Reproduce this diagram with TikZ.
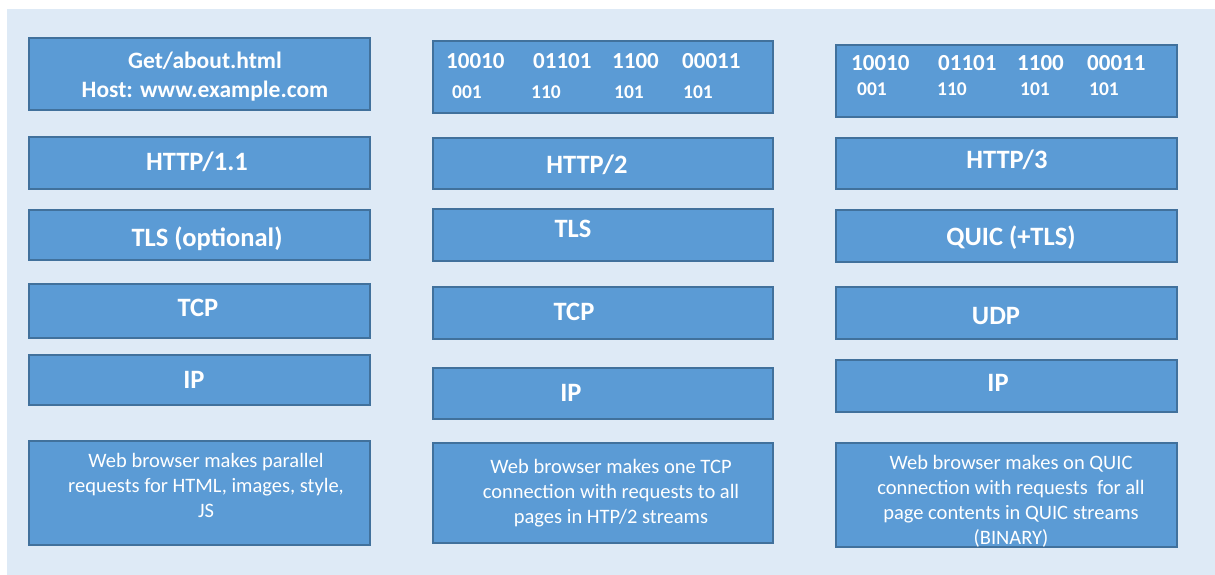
\documentclass[tikz,border=0pt]{standalone}
\usepackage{fontspec}
\setmainfont{Carlito}
\definecolor{bgc}{HTML}{DEEAF6}
\definecolor{boxc}{HTML}{5B9BD5}
\definecolor{edgec}{HTML}{41719C}
\tikzset{
  layerbox/.style={draw=edgec, fill=boxc, line width=1.2pt, inner sep=0pt},
  lbl/.style={text=white, font=\bfseries\fontsize{26.5}{30}\selectfont, inner sep=0pt, anchor=base},
  lblsm/.style={text=white, font=\bfseries\fontsize{23.5}{26}\selectfont, inner sep=0pt, anchor=base},
  bitsA/.style={text=white, font=\bfseries\fontsize{23}{26}\selectfont, inner sep=0pt, anchor=base west},
  bitsB/.style={text=white, font=\bfseries\fontsize{19.5}{22}\selectfont, inner sep=0pt, anchor=base west},
  note/.style={text=white, font=\fontsize{20.5}{25}\selectfont, align=center, inner sep=0pt, anchor=base}
}
\newcommand{\mybox}[5]{\path[layerbox] (#2,#3) rectangle (#4,#5) node[coordinate] (#1) at ({(#2+#4)/2},{(#3+#5)/2}) {};}
\begin{document}
\begin{tikzpicture}[x=1pt,y=-1pt]
\useasboundingbox (0,0) rectangle (1215,575);
\fill[bgc] (7,9) rectangle (1215,575);
% column 1
\mybox{a1}{29}{38}{370}{110}
\mybox{a2}{29}{137}{370}{189}
\mybox{a3}{29}{210}{370}{260}
\mybox{a4}{29}{284}{370}{338}
\mybox{a5}{29}{355}{370}{405}
\mybox{a6}{29}{441}{370}{545}
% column 2
\mybox{b1}{433}{41}{773}{113}
\mybox{b2}{433}{138}{773}{189}
\mybox{b3}{433}{209}{773}{261}
\mybox{b4}{433}{287}{773}{339}
\mybox{b5}{433}{368}{773}{419}
\mybox{b6}{433}{443}{773}{543}
% column 3
\mybox{c1}{836}{45}{1177}{117}
\mybox{c2}{836}{138}{1177}{189}
\mybox{c3}{836}{210}{1177}{262}
\mybox{c4}{836}{287}{1177}{339}
\mybox{c5}{836}{360}{1177}{412}
\mybox{c6}{836}{443}{1177}{547}
% column 1 texts
\node[lblsm] (ta1a) at (205,69) {Get/about.html};
\node[lblsm] (ta1b) at (205,98) {Host: www.example.com};
\node[lbl] (ta2) at (197,170) {HTTP/1.1};
\node[lbl] (ta3) at (207,246) {TLS (optional)};
\node[lbl] (ta4) at (198,316) {TCP};
\node[lbl] (ta5) at (194,388) {IP};
\node[note] (ta6) at (206,517) {Web browser makes parallel\\requests for HTML, images, style,\\JS};
% column 2 texts
\node[bitsA] at (446,69) {10010};
\node[bitsA] at (533,69) {01101};
\node[bitsA] at (612,69) {1100};
\node[bitsA] at (682,69) {00011};
\node[bitsB] at (452,99) {001};
\node[bitsB] at (531,99) {110};
\node[bitsB] at (614,99) {101};
\node[bitsB] at (683,99) {101};
\node[lbl] (tb2) at (587,173) {HTTP/2};
\node[lbl] (tb3) at (573,237) {TLS};
\node[lbl] (tb4) at (574,320) {TCP};
\node[lbl] (tb5) at (571,401) {IP};
\node[note] (tb6) at (611,523) {Web browser makes one TCP\\connection with requests to all\\pages in HTP/2 streams};
% column 3 texts
\node[bitsA] at (851,71) {10010};
\node[bitsA] at (938,71) {01101};
\node[bitsA] at (1017,71) {1100};
\node[bitsA] at (1087,71) {00011};
\node[bitsB] at (857,96) {001};
\node[bitsB] at (937,96) {110};
\node[bitsB] at (1020,96) {101};
\node[bitsB] at (1089,96) {101};
\node[lbl] (tc2) at (1007,168) {HTTP/3};
\node[lbl] (tc3) at (1011,245) {QUIC (+TLS)};
\node[lbl] (tc4) at (996,324) {UDP};
\node[lbl] (tc5) at (998,391) {IP};
\node[note] (tc6) at (1011,544) {Web browser makes on QUIC\\connection with requests\ \ for all\\page contents in QUIC streams\\(BINARY)};
\end{tikzpicture}
\end{document}
